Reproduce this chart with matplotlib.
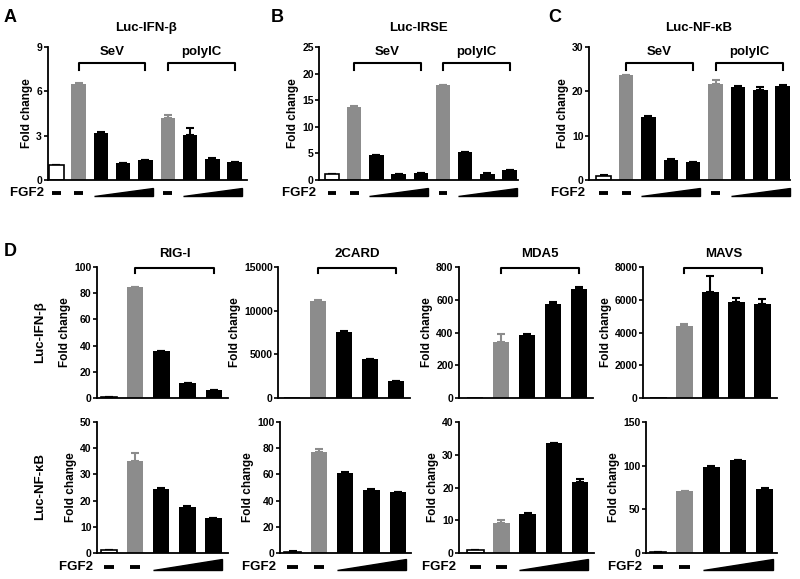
import matplotlib
matplotlib.use("Agg")
import matplotlib.pyplot as plt
from matplotlib.patches import Polygon
from matplotlib.transforms import blended_transform_factory

# Panels A-C: mock, SeV, SeV+FGF2 (3 doses), polyIC, polyIC+FGF2 (3 doses)
abc_titles = ["Luc-IFN-β", "Luc-IRSE", "Luc-NF-κB"]
abc_groups = ["SeV", "polyIC"]
abc_colors = ["white", "gray", "black", "black", "black", "gray", "black", "black", "black"]
ifn_vals = [1.0, 6.5, 3.2, 1.15, 1.35, 4.2, 3.05, 1.45, 1.22]
ifn_err = [0.02, 0.05, 0.03, 0.02, 0.02, 0.2, 0.5, 0.03, 0.02]
irse_vals = [1.1, 13.8, 4.7, 1.1, 1.3, 17.8, 5.2, 1.2, 1.8]
irse_err = [0.05, 0.1, 0.05, 0.05, 0.05, 0.1, 0.05, 0.05, 0.05]
nfkb_vals = [1.0, 23.6, 14.3, 4.6, 4.1, 21.7, 21.0, 20.4, 21.2]
nfkb_err = [0.05, 0.1, 0.1, 0.05, 0.05, 0.8, 0.2, 0.5, 0.2]
abc_yticks = [[0, 3, 6, 9], [0, 5, 10, 15, 20, 25], [0, 10, 20, 30]]

# Panel D: mock, stimulus, stimulus+FGF2 (3 doses)
d_titles = ["RIG-I", "2CARD", "MDA5", "MAVS"]
d_rows = ["Luc-IFN-β", "Luc-NF-κB"]
d_colors = ["white", "gray", "black", "black", "black"]
rigi_ifn = [1.0, 84.5, 35.5, 11.5, 5.8]
rigi_ifn_err = [0.1, 0.5, 0.5, 0.3, 0.3]
card_ifn = [1, 11100, 7600, 4450, 1950]
card_ifn_err = [0, 150, 30, 50, 30]
mda5_ifn = [1, 340, 386, 573, 665]
mda5_ifn_err = [0, 48, 3, 15, 15]
mavs_ifn = [1, 4410, 6450, 5840, 5735]
mavs_ifn_err = [0, 100, 1000, 240, 300]
rigi_nfkb = [1.0, 35.2, 24.3, 17.5, 13.2]
rigi_nfkb_err = [0.2, 3.0, 0.4, 0.4, 0.2]
card_nfkb = [1.0, 77.0, 61.3, 48.2, 46.6]
card_nfkb_err = [0.2, 2.5, 0.4, 0.5, 0.2]
mda5_nfkb = [1.0, 9.2, 12.0, 33.5, 21.7]
mda5_nfkb_err = [0.05, 1.0, 0.1, 0.15, 1.0]
mavs_nfkb = [1.0, 71.0, 98.5, 106, 73.7]
mavs_nfkb_err = [0.1, 0.5, 1.0, 0.5, 0.3]
d_ifn_yticks = [[0, 20, 40, 60, 80, 100], [0, 5000, 10000, 15000],
                [0, 200, 400, 600, 800], [0, 2000, 4000, 6000, 8000]]
d_nfkb_yticks = [[0, 10, 20, 30, 40, 50], [0, 20, 40, 60, 80, 100],
                 [0, 10, 20, 30, 40], [0, 50, 100, 150]]

W, H = 800, 579
GRAY = "#8c8c8c"
FILL = {"white": "white", "gray": GRAY, "black": "black"}

plt.rcParams["font.family"] = ["Liberation Sans", "DejaVu Sans"]
plt.rcParams["font.weight"] = "bold"
plt.rcParams["axes.labelweight"] = "bold"

fig = plt.figure(figsize=(W / 100, H / 100), dpi=100)


def fy(ypix):
    return 1 - ypix / H


def make_ax(l, r, t, b):
    return fig.add_axes([l / W, 1 - b / H, (r - l) / W, (b - t) / H])


def draw_bars(ax, vals, errs, colors, width):
    for i, (v, e, c) in enumerate(zip(vals, errs, colors)):
        fc = FILL[c]
        ec = "black" if c != "gray" else GRAY
        ax.bar(i, v, width, color=fc, edgecolor="black" if c == "white" else fc,
               linewidth=1.2 if c == "white" else 0, zorder=2)
        if e > 0:
            ax.errorbar(i, v, yerr=[[0], [e]], fmt="none", ecolor=ec,
                        elinewidth=1.5, capsize=3, capthick=1.5, zorder=1)


def style(ax, ticks, xlim):
    ax.set_ylim(0, ticks[-1])
    ax.set_yticks(ticks)
    ax.set_xlim(*xlim)
    ax.set_xticks([])
    for s in ["top", "right"]:
        ax.spines[s].set_visible(False)
    ax.spines["left"].set_linewidth(1.3)
    ax.spines["bottom"].set_linewidth(1.3)
    ax.tick_params(axis="y", length=3, width=1.2, pad=1, labelsize=7.5)
    ax.set_ylabel("Fold change", fontsize=8.5, labelpad=2)


def bracket(ax, x0, x1, ytop, ybot):
    tr = blended_transform_factory(ax.transData, fig.transFigure)
    ax.plot([x0, x0, x1, x1], [fy(ybot), fy(ytop), fy(ytop), fy(ybot)],
            transform=tr, clip_on=False, color="black", lw=1.5)


def fgf2_row(ax, n, width, ypix, tri_h, xlim):
    tr = blended_transform_factory(ax.transData, fig.transFigure)
    ax.text(xlim[0], fy(ypix), "FGF2 ", transform=tr, ha="right", va="center",
            fontsize=9.5)
    dash_idx = [0, 1] if n == 5 else [0, 1, 5]
    for i in dash_idx:
        ax.plot([i - 0.2, i + 0.2], [fy(ypix)] * 2, transform=tr, clip_on=False,
                color="black", lw=2.8, solid_capstyle="butt")
    starts = [2] if n == 5 else [2, 6]
    for s in starts:
        x0, x1 = s - width / 2, s + 2 + width / 2
        tri = Polygon([(x0, fy(ypix + 2.5)), (x1, fy(ypix + 2.5)), (x1, fy(ypix + 2.5 - tri_h))],
                      closed=True, transform=tr, clip_on=False, color="black")
        ax.add_patch(tri)


# ---- Panels A-C ----
abc_vals = [ifn_vals, irse_vals, nfkb_vals]
abc_errs = [ifn_err, irse_err, nfkb_err]
abc_boxes = [(47.5, 246.5, -0.395, 8.53), (319.3, 518, -0.57, 8.38), (589, 790, -0.66, 8.33)]
abc_title_x = [146, 418, 699]
abc_letters = ["A", "B", "C"]
abc_letter_x = [10, 277, 555]
w_abc = 0.65
for k in range(3):
    l, r, xlo, xhi = abc_boxes[k]
    ax = make_ax(l, r, 47, 180)
    draw_bars(ax, abc_vals[k], abc_errs[k], abc_colors, w_abc)
    style(ax, abc_yticks[k], (xlo, xhi))
    fig.text(abc_title_x[k] / W, fy(28), abc_titles[k], ha="center", va="center", fontsize=9.5)
    fig.text(abc_letter_x[k] / W, fy(17), abc_letters[k], ha="center", va="center", fontsize=13)
    tr = blended_transform_factory(ax.transData, fig.transFigure)
    for g, (a, b) in enumerate([(1, 4), (5, 8)]):
        bracket(ax, a, b, 63, 70)
        ax.text((a + b) / 2, fy(52), abc_groups[g], transform=tr, ha="center",
                va="center", fontsize=9.5)
    fgf2_row(ax, 9, w_abc, 193, 8, (xlo, xhi))

# ---- Panel D ----
d_ifn_vals = [rigi_ifn, card_ifn, mda5_ifn, mavs_ifn]
d_ifn_errs = [rigi_ifn_err, card_ifn_err, mda5_ifn_err, mavs_ifn_err]
d_nfkb_vals = [rigi_nfkb, card_nfkb, mda5_nfkb, mavs_nfkb]
d_nfkb_errs = [rigi_nfkb_err, card_nfkb_err, mda5_nfkb_err, mavs_nfkb_err]
d_top_boxes = [(96.7, 228, -0.47, 4.54), (278.3, 410, -0.53, 4.54),
               (459, 592.7, -0.61, 4.52), (643, 777, -0.59, 4.56)]
d_bot_boxes = [(97, 228, -0.46, 4.56), (280, 410.7, -0.475, 4.49),
               (459.3, 594, -0.61, 4.53), (646, 777.3, -0.45, 4.47)]
w_d = 0.63
fig.text(10 / W, fy(252), "D", ha="center", va="center", fontsize=13)
for k in range(4):
    l, r, xlo, xhi = d_top_boxes[k]
    ax = make_ax(l, r, 267, 398)
    draw_bars(ax, d_ifn_vals[k], d_ifn_errs[k], d_colors, w_d)
    style(ax, d_ifn_yticks[k], (xlo, xhi))
    bracket(ax, 1, 4, 268, 273)
    tr = blended_transform_factory(ax.transData, fig.transFigure)
    ax.text(2.5, fy(254), d_titles[k], transform=tr, ha="center", va="center", fontsize=9.5)

    l, r, xlo, xhi = d_bot_boxes[k]
    ax = make_ax(l, r, 422, 553)
    draw_bars(ax, d_nfkb_vals[k], d_nfkb_errs[k], d_colors, w_d)
    style(ax, d_nfkb_yticks[k], (xlo, xhi))
    fgf2_row(ax, 5, w_d, 567, 11, (xlo, xhi))

fig.text(40 / W, fy(332), d_rows[0], rotation=90, ha="center", va="center", fontsize=9.5)
fig.text(40 / W, fy(487), d_rows[1], rotation=90, ha="center", va="center", fontsize=9.5)

fig.savefig("out.png", dpi=100)
